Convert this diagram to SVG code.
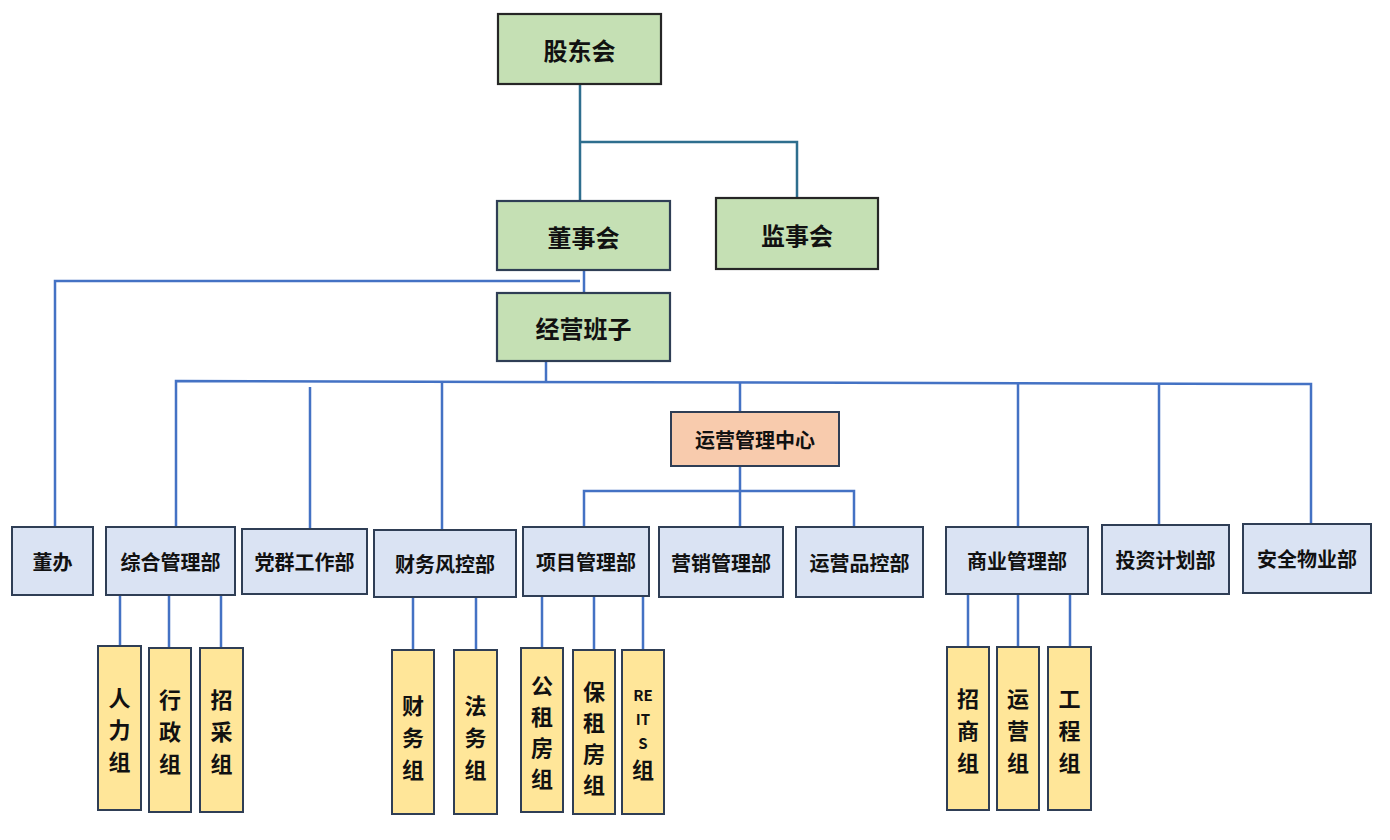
<svg xmlns="http://www.w3.org/2000/svg" width="1390" height="840" viewBox="0 0 1390 840">
<style>
text{font-family:"Noto Sans CJK SC","Noto Sans",sans-serif;font-weight:bold;fill:#111;text-anchor:middle;dominant-baseline:central}
.g{fill:#c5e0b4;stroke:#262626;stroke-width:2.2}
.g2{fill:#c5e0b4;stroke:#2f3e55;stroke-width:2.2}
.o{fill:#f8cbad;stroke:#2f3e55;stroke-width:2}
.d{fill:#dae3f3;stroke:#2f3e55;stroke-width:2}
.y{fill:#ffe699;stroke:#2f3e55;stroke-width:2}
.t1{font-size:24px}
.t2{font-size:20px}
.t3{font-size:22px}
.lat{font-size:15px}
.c{fill:none;stroke:#4472c4;stroke-width:2.5}
.ct{fill:none;stroke:#2e6e8e;stroke-width:2.5}
</style>
<rect width="1390" height="840" fill="#fff"/>
<g id="connectors">
<path class="ct" d="M580 84V200M580 142H797V198"/>
<path class="c" d="M584 270V293M580 281H55V527"/>
<path class="c" d="M546 361V381"/>
<path class="c" d="M176 527V381L1311 384V524"/>
<path class="c" d="M310 387V529M442 381V531M740 382V412M1018 383V527M1159 383V525"/>
<path class="c" d="M740 466V527M584 527V491H854V527"/>
<path class="c" d="M120 595V646M169 595V648M221 595V648"/>
<path class="c" d="M413 597V650M476 597V650"/>
<path class="c" d="M542 596V648M594 596V650M643 596V650"/>
<path class="c" d="M968 594V647M1018 594V647M1070 594V647"/>
</g>
<g id="n-gudonghui"><rect class="g" x="498" y="14" width="163" height="70"/><text class="t1" x="579.5" y="49">股东会</text></g>
<g id="n-dongshihui"><rect class="g2" x="497" y="201" width="173" height="69"/><text class="t1" x="583.5" y="236">董事会</text></g>
<g id="n-jianshihui"><rect class="g" x="716" y="198" width="162" height="71"/><text class="t1" x="797" y="234">监事会</text></g>
<g id="n-jingying"><rect class="g2" x="497" y="293" width="173" height="68"/><text class="t1" x="583.5" y="327">经营班子</text></g>
<g id="n-yunying-center"><rect class="o" x="671" y="412" width="168" height="54"/><text class="t2" x="755" y="439">运营管理中心</text></g>
<g id="n-dongban"><rect class="d" x="12" y="527" width="81" height="68"/><text class="t2" x="52.5" y="561">董办</text></g>
<g id="n-zonghe"><rect class="d" x="106" y="527" width="129" height="68"/><text class="t2" x="170.5" y="561">综合管理部</text></g>
<g id="n-dangqun"><rect class="d" x="242" y="529" width="125" height="65"/><text class="t2" x="304.5" y="561.5">党群工作部</text></g>
<g id="n-caiwu"><rect class="d" x="374" y="530" width="142" height="67"/><text class="t2" x="445" y="563.5">财务风控部</text></g>
<g id="n-xiangmu"><rect class="d" x="523" y="527" width="126" height="69"/><text class="t2" x="586" y="561.5">项目管理部</text></g>
<g id="n-yingxiao"><rect class="d" x="659" y="527" width="124" height="70"/><text class="t2" x="721" y="562">营销管理部</text></g>
<g id="n-pinkong"><rect class="d" x="796" y="527" width="127" height="70"/><text class="t2" x="859.5" y="562">运营品控部</text></g>
<g id="n-shangye"><rect class="d" x="946" y="527" width="142" height="67"/><text class="t2" x="1017" y="560.5">商业管理部</text></g>
<g id="n-touzi"><rect class="d" x="1102" y="525" width="127" height="69"/><text class="t2" x="1165.5" y="559.5">投资计划部</text></g>
<g id="n-anquan"><rect class="d" x="1243" y="524" width="128" height="69"/><text class="t2" x="1307" y="558.5">安全物业部</text></g>
<g id="n-renli"><rect class="y" x="98" y="646" width="43" height="164"/><text class="t3"><tspan x="119.5" y="696">人</tspan><tspan x="119.5" y="728">力</tspan><tspan x="119.5" y="760">组</tspan></text></g>
<g id="n-xingzheng"><rect class="y" x="149" y="648" width="42" height="164"/><text class="t3"><tspan x="170" y="698">行</tspan><tspan x="170" y="730">政</tspan><tspan x="170" y="762">组</tspan></text></g>
<g id="n-zhaocai"><rect class="y" x="200" y="648" width="43" height="164"/><text class="t3"><tspan x="221.5" y="698">招</tspan><tspan x="221.5" y="730">采</tspan><tspan x="221.5" y="762">组</tspan></text></g>
<g id="n-caiwuzu"><rect class="y" x="392" y="650" width="42" height="164"/><text class="t3"><tspan x="413" y="704">财</tspan><tspan x="413" y="736">务</tspan><tspan x="413" y="768">组</tspan></text></g>
<g id="n-fawu"><rect class="y" x="454" y="650" width="43" height="164"/><text class="t3"><tspan x="475.5" y="704">法</tspan><tspan x="475.5" y="736">务</tspan><tspan x="475.5" y="768">组</tspan></text></g>
<g id="n-gongzu"><rect class="y" x="521" y="648" width="42" height="164"/><text class="t3"><tspan x="542" y="684">公</tspan><tspan x="542" y="715">租</tspan><tspan x="542" y="746">房</tspan><tspan x="542" y="777">组</tspan></text></g>
<g id="n-baozu"><rect class="y" x="573" y="650" width="42" height="164"/><text class="t3"><tspan x="594" y="690">保</tspan><tspan x="594" y="721">租</tspan><tspan x="594" y="752">房</tspan><tspan x="594" y="783">组</tspan></text></g>
<g id="n-reits"><rect class="y" x="622" y="650" width="42" height="164"/><text class="lat"><tspan x="643" y="694">RE</tspan><tspan x="643" y="718">IT</tspan><tspan x="643" y="742">S</tspan></text><text class="t3" x="643" y="768">组</text></g>
<g id="n-zhaoshang"><rect class="y" x="947" y="647" width="42" height="163"/><text class="t3"><tspan x="968" y="697">招</tspan><tspan x="968" y="729">商</tspan><tspan x="968" y="761">组</tspan></text></g>
<g id="n-yunyingzu"><rect class="y" x="997" y="647" width="42" height="163"/><text class="t3"><tspan x="1018" y="697">运</tspan><tspan x="1018" y="729">营</tspan><tspan x="1018" y="761">组</tspan></text></g>
<g id="n-gongcheng"><rect class="y" x="1048" y="647" width="43" height="163"/><text class="t3"><tspan x="1069.5" y="697">工</tspan><tspan x="1069.5" y="729">程</tspan><tspan x="1069.5" y="761">组</tspan></text></g>
</svg>
